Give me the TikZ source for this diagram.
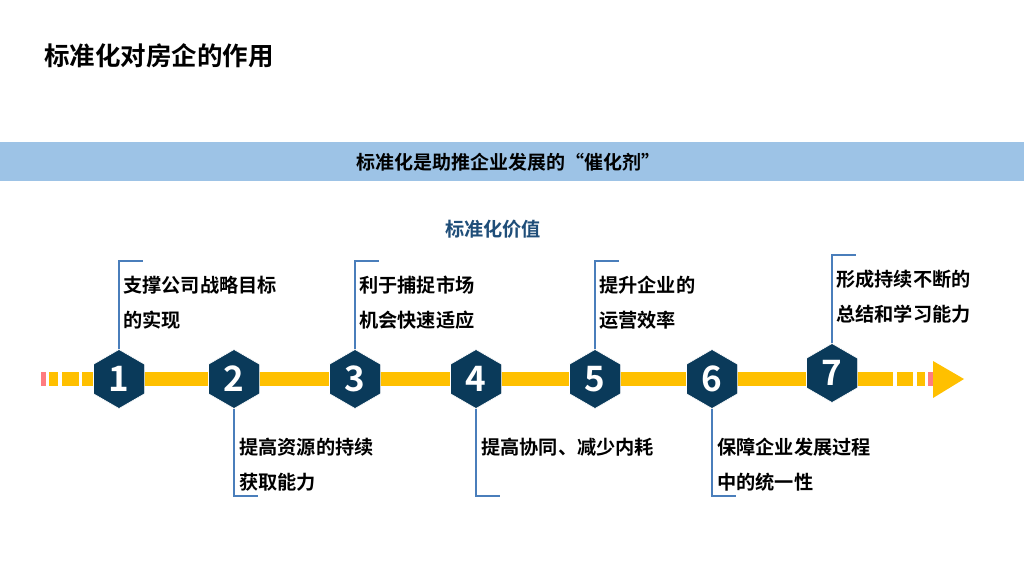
\documentclass[tikz,border=0pt]{standalone}
\usepackage{fontspec}
\setmainfont{Noto Sans CJK SC}[BoldFont={* Bold}]
\usepackage{tikz}
\usetikzlibrary{positioning,shapes.geometric}
\definecolor{stdnavy}{HTML}{0A3A5A}
\definecolor{stdyellow}{HTML}{FFC000}
\definecolor{stdpink}{HTML}{FF7C80}
\definecolor{stdband}{HTML}{9DC3E6}
\definecolor{stdline}{HTML}{4A7EBB}
\definecolor{stdtitle}{HTML}{1F4E79}

\begin{document}
\begin{tikzpicture}[
  x=1pt, y=-1pt,
  hexnode/.style={regular polygon, regular polygon sides=6, shape border rotate=30,
                  fill=stdnavy, draw=white, line width=0.6pt, inner sep=0pt, minimum size=59pt,
                  text=white, font=\fontsize{35}{35}\selectfont\bfseries},
  note/.style={anchor=north west, align=left, inner sep=0pt,
               font=\fontsize{19.2}{35}\selectfont\bfseries},
  callout/.style={stdline, line width=1.3pt},
  bar/.style={fill=stdyellow},
  tip/.style={fill=stdpink}
]
\useasboundingbox (0,0) rectangle (1024,576);
\fill[white] (0,0) rectangle (1024,576);
% headline and banner
\node[anchor=west, inner sep=0pt, font=\fontsize{25.5}{25.5}\selectfont\bfseries] (title) at (44,56) {标准化对房企的作用};
\fill[stdband] (0,142) rectangle (1024,181);
\node[inner sep=0pt, font=\fontsize{19}{19}\selectfont\bfseries] (band) at (508,162) {标准化是助推企业发展的“催化剂”};
\node[inner sep=0pt, text=stdtitle, font=\fontsize{19.2}{19.2}\selectfont\bfseries] (value) at (493,229) {标准化价值};
% timeline bar
\fill[bar] (82,372) rectangle (893,386);
\fill[tip] (41,372) rectangle (46,386);
\fill[bar] (49,372) rectangle (58,386);
\fill[bar] (62,372) rectangle (79,386);
\fill[bar] (897,372) rectangle (913,386);
\fill[bar] (917,372) rectangle (925,386);
\fill[tip] (928,372) rectangle (933,386);
\fill[bar] (933,361) -- (964,379) -- (933,398) -- cycle;
% hexagons
\foreach \n/\x/\y in {1/119/379, 2/234/379, 3/355/379, 4/476/379, 5/595/379, 6/712/379, 7/832/373}
  \node[hexnode] (h\n) at (\x,\y) {\n};
% callouts above
\foreach \n/\y/\txt in {1/261/{支撑公司战略目标\\的实现}, 3/261/{利于捕捉市场\\机会快速适应},
                        5/261/{提升企业的\\运营效率}, 7/255/{形成持续不断的\\总结和学习能力}} {
  \coordinate (c\n) at ([xshift=24pt]h\n.north |- 0,\y);
  \draw[callout] (h\n.north) |- (c\n);
  \node[note] (t\n) at ([xshift=4pt,yshift=-15pt]h\n.north |- 0,\y) {\txt};
}
% callouts below
\foreach \n/\txt in {2/{提高资源的持续\\获取能力}, 4/{提高协同、减少内耗}, 6/{保障企业发展过程\\中的统一性}} {
  \coordinate (c\n) at ([xshift=24pt]h\n.south |- 0,496);
  \draw[callout] (h\n.south) |- (c\n);
  \node[note] (t\n) at ([xshift=5pt]h\n.south |- 0,438) {\txt};
}
\end{tikzpicture}
\end{document}
